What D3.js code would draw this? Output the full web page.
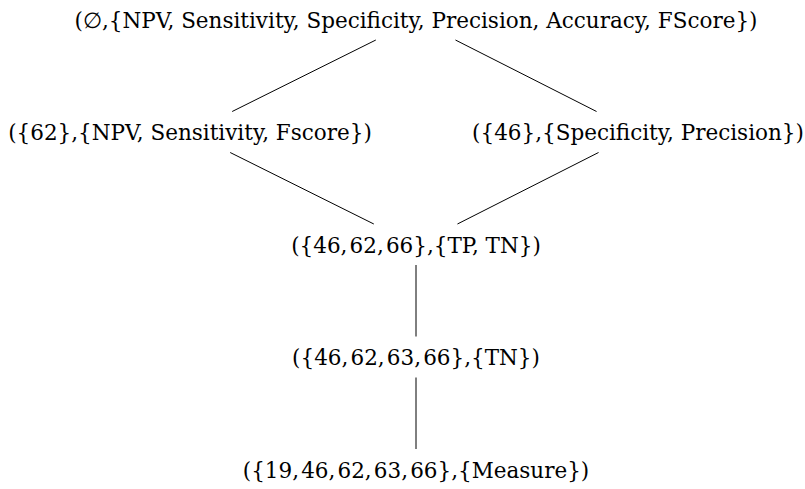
<!DOCTYPE html>
<html>
<head>
<meta charset="utf-8">
<script src="https://cdn.jsdelivr.net/npm/d3@7"></script>
<style>
  html, body { margin: 0; padding: 0; background: #fff; }
  svg text { font-family: "DejaVu Serif", "Liberation Serif", serif; fill: #000; }
</style>
</head>
<body>
<div id="chart"></div>
<script>
/* Concept lattice - D3 */

// Node labels, lattice level (top = 0) and column (-1 left, 0 centre, 1 right)
const labels = [
  '(\u2205,{NPV, Sensitivity, Specificity, Precision, Accuracy, FScore})',
  '({62},{NPV, Sensitivity, Fscore})',
  '({46},{Specificity, Precision})',
  '({46,\u200a62,\u200a66},{TP, TN})',
  '({46,\u200a62,\u200a63,\u200a66},{TN})',
  '({19,\u200a46,\u200a62,\u200a63,\u200a66},{Measure})',
];
const levels = [0, 1, 1, 2, 3, 4];
const columns = [0, -1, 1, 0, 0, 0];

// Edges as [parent index, child index]
const edges = [[0, 1], [0, 2], [1, 3], [2, 3], [3, 4], [4, 5]];

const width = 805;
const height = 489;

const svg = d3.select('#chart')
  .append('svg')
  .attr('width', width)
  .attr('height', height);

const x = d3.scaleLinear().domain([-1, 1]).range([190, 638]);
const y = d3.scaleLinear().domain([0, 4]).range([20, 470]);

const nodes = labels.map((label, i) => ({
  label,
  x: x(columns[i]) + (columns[i] === 0 ? 2 : 0),
  y: y(levels[i]),
}));

const gap = 20; // distance kept free above / below a label

svg.append('g')
  .selectAll('line')
  .data(edges)
  .join('line')
  .attr('stroke', '#000')
  .attr('stroke-width', 1)
  .each(function ([a, b]) {
    const p = nodes[a], q = nodes[b];
    const k = (q.x - p.x) / (q.y - p.y);
    d3.select(this)
      .attr('x1', p.x + k * gap)
      .attr('y1', p.y + gap)
      .attr('x2', q.x - k * (gap + 1))
      .attr('y2', q.y - gap - 1);
  });

svg.append('g')
  .selectAll('text')
  .data(nodes)
  .join('text')
  .attr('x', d => d.x)
  .attr('y', d => d.y)
  .attr('text-anchor', 'middle')
  .attr('dominant-baseline', 'central')
  .attr('font-size', 21.5)
  .text(d => d.label);
</script>
</body>
</html>
